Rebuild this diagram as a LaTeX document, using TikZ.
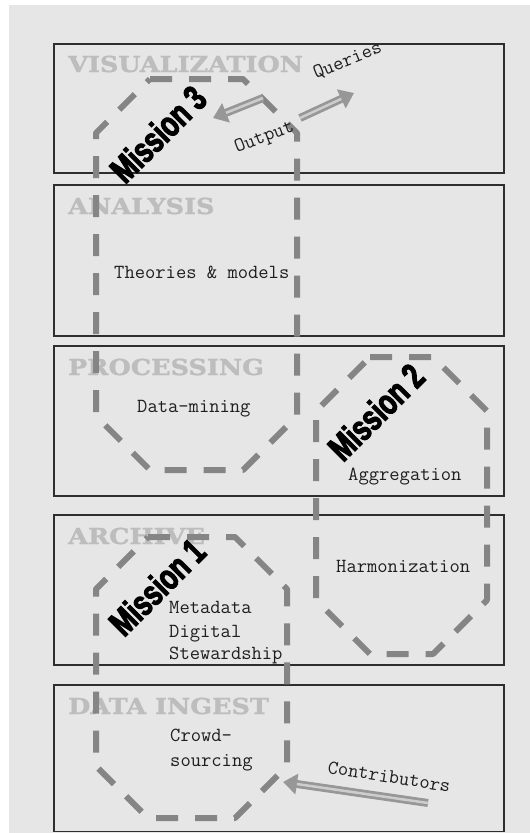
\documentclass[tikz,border=0pt]{standalone}
\usepackage{fontspec}
\usetikzlibrary{arrows.meta}

\newfontfamily\layerfont{DejaVu Serif}[FakeStretch=1.16,FakeBold=1.5]
\newfontfamily\missionfont{Liberation Sans}[FakeStretch=0.72,FakeBold=3]

\definecolor{canvas}{HTML}{E6E6E6}
\definecolor{layertitle}{HTML}{BDBDBD}
\definecolor{missionline}{HTML}{858585}
\definecolor{boxline}{HTML}{2E2E2E}
\definecolor{notetext}{HTML}{1E1E1E}
\definecolor{arrowfill}{HTML}{979797}
\definecolor{arrowshine}{HTML}{CDCDCD}

\tikzset{
  layerbox/.style={draw=boxline, line width=1.5pt},
  layername/.style={anchor=base west, inner sep=0pt, text=layertitle,
    font=\layerfont\bfseries\fontsize{22}{26}\selectfont},
  note/.style={anchor=base west, inner sep=0pt, text=notetext,
    font=\ttfamily\fontsize{20}{24}\selectfont},
  missionpath/.style={draw=missionline, line width=6pt, line join=round,
    dash pattern=on 22pt off 17pt},
  missionname/.style={inner sep=0pt, rotate=45, text=black,
    font=\missionfont\bfseries\fontsize{36}{40}\selectfont},
  blockarrow/.style={draw=arrowfill, line width=8pt,
    -{Triangle[width=20pt,length=14pt]}},
  blockshine/.style={draw=arrowshine, line width=2.5pt, shorten >=14pt},
}

\begin{document}
\begin{tikzpicture}[x=1pt,y=-1pt]
  % page and grey canvas
  \useasboundingbox (0,0) rectangle (530,833);
  \fill[white] (0,0) rectangle (530,833);
  \fill[canvas] (9,5) rectangle (530,833);

  % the five layers
  \draw[layerbox] (54,44)  rectangle (504,173);
  \draw[layerbox] (54,185) rectangle (504,336);
  \draw[layerbox] (54,346) rectangle (504,496);
  \draw[layerbox] (54,515) rectangle (504,665);
  \draw[layerbox] (54,685) rectangle (504,831.5);

  \node[layername] (tvis)  at (68,72)  {VISUALIZATION};
  \node[layername] (tana)  at (68,214) {ANALYSIS};
  \node[layername] (tproc) at (68,375) {PROCESSING};
  \node[layername] (tarch) at (68,544) {ARCHIVE};
  \node[layername] (tingest) at (68,714) {DATA INGEST};

  % mission outlines (dashed octagons)
  \draw[missionpath] (150,79) -- (243,79) -- (297,133) -- (297,416)
    -- (243,470) -- (150,470) -- (96,416) -- (96,133) -- cycle;
  \draw[missionpath] (370,357) -- (433,357) -- (487,411) -- (487,600)
    -- (433,654) -- (370,654) -- (316,600) -- (316,411) -- cycle;
  \draw[missionpath] (148,537) -- (235,537) -- (287,589) -- (287,766)
    -- (235,818) -- (148,818) -- (96,766) -- (96,589) -- cycle;

  % activities
  \node[note] (theories) at (114,278) {Theories \& models};
  \node[note] (mining)   at (137,412) {Data-mining};
  \node[note] (aggr)     at (348,480) {Aggregation};
  \node[note] (harmon)   at (336,572) {Harmonization};
  \node[note] (meta1)    at (169,613) {Metadata};
  \node[note] (meta2)    at (169,637) {Digital};
  \node[note] (meta3)    at (169,659) {Stewardship};
  \node[note] (crowd1)   at (170,741) {Crowd-};
  \node[note] (crowd2)   at (170,766) {sourcing};

  % inputs and outputs
  \node[note, rotate=21] (output)  at (237,153) {Output};
  \node[note, rotate=22] (queries) at (316,79)  {Queries};
  \node[note, rotate=-9] (contrib) at (327,773) {Contributors};

  \coordinate (outTail)  at (263,98);
  \coordinate (outTip)   at (213,118);
  \coordinate (qTail)    at (300,118);
  \coordinate (qTip)     at (354,93);
  \coordinate (cTail)    at (428,803);
  \coordinate (cTip)     at (283,782);

  \draw[blockarrow] (outTail) -- (outTip);
  \draw[blockshine] (outTail) -- (outTip);
  \draw[blockarrow] (qTail) -- (qTip);
  \draw[blockshine] (qTail) -- (qTip);
  \draw[blockarrow] (cTail) -- (cTip);
  \draw[blockshine] (cTail) -- (cTip);

  % mission labels
  \node[missionname] (m3) at (158,134) {Mission 3};
  \node[missionname] (m2) at (376,412) {Mission 2};
  \node[missionname] (m1) at (157,587) {Mission 1};
\end{tikzpicture}
\end{document}
